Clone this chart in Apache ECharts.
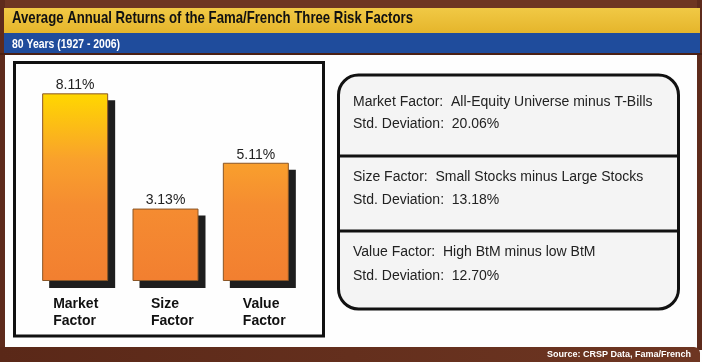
<!DOCTYPE html>
<html>
<head>
<meta charset="utf-8">
<script src="https://cdn.jsdelivr.net/npm/echarts@6/dist/echarts.min.js"></script>
<style>
html,body{margin:0;padding:0;background:#fff;}
#c{width:702px;height:362px;}
</style>
</head>
<body>
<div id="c"></div>
<script>
// ---- data ----
const categories = ['Market Factor', 'Size Factor', 'Value Factor'];
const avgReturns = [8.11, 3.13, 5.11];
const factorNames = ['Market Factor', 'Size Factor', 'Value Factor'];
const factorDescriptions = ['All-Equity Universe minus T-Bills', 'Small Stocks minus Large Stocks', 'High BtM minus low BtM'];
const stdDeviations = ['20.06%', '13.18%', '12.70%'];
const titleText = 'Average Annual Returns of the Fama/French Three Risk Factors';
const subtitleText = '80 Years (1927 - 2006)';
const sourceText = 'Source: CRSP Data, Fama/French';

const chart = echarts.init(document.getElementById('c'), null, {renderer: 'canvas'});
const BROWN = '#5e2b1c';
const ARIAL = "'Liberation Sans', Arial, sans-serif";

// horizontal squeeze factor for the condensed heading fonts
const mctx = document.createElement('canvas').getContext('2d');
function squeeze(text, font, targetWidth) {
  mctx.font = font;
  return targetWidth / mctx.measureText(text).width;
}
const titleFont = 'bold 17px ' + ARIAL;
const subFont = 'bold 13px ' + ARIAL;

const barGradient = new echarts.graphic.LinearGradient(0, 94, 0, 281, [
  {offset: 0, color: '#ffd700'},
  {offset: 0.35, color: '#f9a12c'},
  {offset: 0.6, color: '#f58c31'},
  {offset: 1, color: '#f27f30'}
], true);

const graphics = [
  // frame
  {type: 'rect', shape: {x: 0, y: 0, width: 702, height: 8}, style: {fill: '#6e3622'}},
  {type: 'rect', shape: {x: 0, y: 0, width: 5, height: 362}, style: {fill: BROWN}},
  {type: 'rect', shape: {x: 697, y: 0, width: 5, height: 350}, style: {fill: BROWN}},
  {type: 'rect', shape: {x: 4, y: 8, width: 696, height: 25},
    style: {fill: new echarts.graphic.LinearGradient(0, 0, 0, 1, [{offset: 0, color: '#f1c945'}, {offset: 1, color: '#e5b52b'}])}},
  {type: 'rect', shape: {x: 4, y: 33, width: 696, height: 20}, style: {fill: '#1f4c9c'}},
  {type: 'rect', shape: {x: 0, y: 53, width: 702, height: 2}, style: {fill: '#4a2014'}},
  {type: 'rect', shape: {x: 0, y: 347, width: 700, height: 15, r: [0, 6, 0, 0]},
    style: {fill: new echarts.graphic.LinearGradient(0, 0, 1, 0, [{offset: 0, color: '#5a2818'}, {offset: 1, color: '#6e3622'}])}},
  // titles
  {type: 'text', x: 12, y: 18, scaleX: squeeze(titleText, titleFont, 401),
    style: {text: titleText, font: titleFont, fill: '#111', align: 'left', verticalAlign: 'middle'}},
  {type: 'text', x: 12, y: 44, scaleX: squeeze(subtitleText, subFont, 108),
    style: {text: subtitleText, font: subFont, fill: '#fff', align: 'left', verticalAlign: 'middle'}},
  {type: 'text', x: 691, y: 355, style: {text: sourceText, font: 'bold 9px ' + ARIAL, fill: '#fff', align: 'right', verticalAlign: 'middle'}},
  // left box
  {type: 'rect', shape: {x: 14.5, y: 62.5, width: 309, height: 273.5}, style: {fill: 'none', stroke: '#111', lineWidth: 3}},
  // right box
  {type: 'rect', shape: {x: 338.5, y: 75, width: 340, height: 234, r: 20}, style: {fill: '#f4f4f4', stroke: '#111', lineWidth: 3}},
  {type: 'line', shape: {x1: 338.5, y1: 156, x2: 678.5, y2: 156}, style: {stroke: '#111', lineWidth: 3}},
  {type: 'line', shape: {x1: 338.5, y1: 231, x2: 678.5, y2: 231}, style: {stroke: '#111', lineWidth: 3}}
];
const rowY = [[102, 124], [177, 200], [252, 276]];
factorNames.forEach((name, i) => {
  graphics.push({type: 'text', x: 353, y: rowY[i][0], style: {text: name + ':  ' + factorDescriptions[i], font: '14px ' + ARIAL, fill: '#222', align: 'left', verticalAlign: 'middle'}});
  graphics.push({type: 'text', x: 353, y: rowY[i][1], style: {text: 'Std. Deviation:  ' + stdDeviations[i], font: '14px ' + ARIAL, fill: '#222', align: 'left', verticalAlign: 'middle'}});
});

const labelPads = [2, 17, 20];
const Y_MAX = 8.6;

chart.setOption({
  backgroundColor: '#fefefe',
  animation: false,
  graphic: graphics,
  grid: [
    {left: 30, width: 271, top: 82, bottom: 81},
    {left: 37, width: 271, top: 89, bottom: 74}
  ],
  xAxis: [{
    type: 'category',
    gridIndex: 0,
    data: categories.map((c, i) => ({value: c, textStyle: {padding: [0, 0, 0, labelPads[i]]}})),
    axisLine: {show: false},
    axisTick: {show: false},
    axisLabel: {
      margin: 15,
      interval: 0,
      formatter: v => v.split(' ').map(w => '{a|' + w + '}').join('\n'),
      rich: {a: {fontFamily: ARIAL, fontSize: 14, fontWeight: 'bold', color: '#111', width: 46, align: 'left', lineHeight: 17}}
    }
  }, {
    type: 'category',
    gridIndex: 1,
    data: categories,
    show: false
  }],
  yAxis: [
    {type: 'value', gridIndex: 0, min: 0, max: Y_MAX, show: false, splitLine: {show: false}},
    {type: 'value', gridIndex: 1, min: 0, max: Y_MAX, show: false, splitLine: {show: false}}
  ],
  series: [{
    type: 'bar',
    xAxisIndex: 1,
    yAxisIndex: 1,
    data: avgReturns,
    barWidth: 66,
    silent: true,
    z: 1,
    itemStyle: {color: '#1e1e1e'}
  }, {
    type: 'bar',
    xAxisIndex: 0,
    yAxisIndex: 0,
    data: avgReturns,
    barWidth: 66,
    z: 3,
    itemStyle: {
      color: barGradient,
      borderColor: '#8a5626',
      borderWidth: 1
    },
    label: {
      show: true,
      position: 'top',
      distance: 1,
      formatter: p => p.value.toFixed(2) + '%',
      fontFamily: ARIAL,
      fontSize: 14,
      color: '#222'
    }
  }]
});
</script>
</body>
</html>
